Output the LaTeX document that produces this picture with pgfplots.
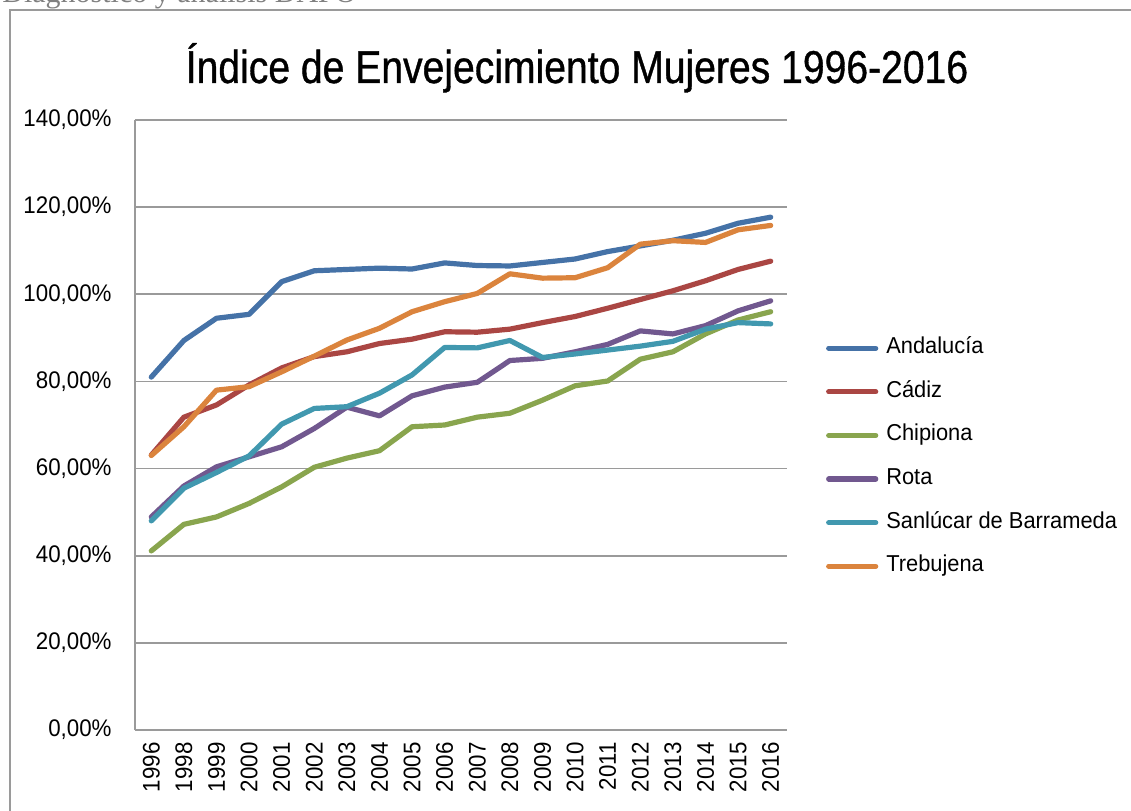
\documentclass[border=0pt]{standalone}
\usepackage{fontspec}
\setmainfont{Liberation Sans}
\newfontfamily\titlefont{Liberation Sans}[FakeStretch=0.85,FakeBold=0.8]
\newfontfamily\tickfont{Liberation Sans}[FakeStretch=0.93]
\newfontfamily\legfont{Liberation Sans}[FakeStretch=0.95]
\newfontfamily\headfont{Liberation Serif}
\usepackage{pgfplots}
\usepackage{pgfplotstable}
\pgfplotsset{compat=1.18}
\definecolor{cAnd}{HTML}{4572A7}
\definecolor{cCad}{HTML}{AA4643}
\definecolor{cChi}{HTML}{89A54E}
\definecolor{cRot}{HTML}{71588F}
\definecolor{cSan}{HTML}{4198AF}
\definecolor{cTre}{HTML}{DB843D}
\definecolor{gridc}{HTML}{9A9A9A}
\pgfplotstableread{
idx And Cad Chi Rot San Tre
0 81.0 63.1 41.1 48.9 48.0 63.0
1 89.4 71.8 47.2 56.0 55.5 69.6
2 94.5 74.6 48.9 60.4 59.1 78.0
3 95.4 79.2 52.0 62.7 62.9 78.8
4 102.9 83.1 55.8 65.0 70.2 82.2
5 105.4 85.7 60.3 69.2 73.8 85.8
6 105.7 86.8 62.4 74.1 74.2 89.5
7 106.0 88.7 64.1 72.1 77.3 92.2
8 105.8 89.7 69.6 76.7 81.5 96.0
9 107.2 91.4 70.0 78.7 87.8 98.3
10 106.6 91.3 71.8 79.8 87.7 100.2
11 106.5 92.0 72.7 84.8 89.4 104.7
12 107.3 93.5 75.7 85.3 85.5 103.7
13 108.1 94.9 79.0 86.8 86.3 103.8
14 109.8 96.8 80.1 88.5 87.2 106.1
15 111.1 98.8 85.1 91.6 88.1 111.5
16 112.4 100.8 86.8 90.9 89.2 112.3
17 114.0 103.1 90.9 92.8 92.0 111.9
18 116.3 105.7 94.1 96.2 93.5 114.8
19 117.7 107.6 96.0 98.5 93.2 115.8
}\datatable
\begin{document}
\begin{tikzpicture}
\useasboundingbox (0,0) rectangle (565.5pt,405pt);
\begin{scope}
\clip (0,0) rectangle (565.5pt,405pt);
\draw[gridc, line width=0.8pt] (5pt,-10pt) -- (5pt,400pt) -- (600pt,400pt);
\node[anchor=base west, inner sep=0pt, text=gray, font=\headfont\fontsize{15}{15}\selectfont] at (1pt,403.5pt) {Diagnóstico y análisis DAFO};
\end{scope}
\node[anchor=base, inner sep=0pt, font=\titlefont\fontsize{23}{23}\selectfont] at (288.5pt,363.5pt) {Índice de Envejecimiento Mujeres 1996-2016};
\begin{axis}[
  at={(67.5pt,40pt)}, anchor=south west,
  scale only axis, width=326pt, height=305pt,
  xmin=-0.5, xmax=19.5, ymin=0, ymax=140,
  xtick={0,...,19},
  xticklabels={1996,1998,1999,2000,2001,2002,2003,2004,2005,2006,2007,2008,2009,2010,2011,2012,2013,2014,2015,2016},
  ytick={0,20,...,140},
  yticklabels={{0,00\%},{20,00\%},{40,00\%},{60,00\%},{80,00\%},{100,00\%},{120,00\%},{140,00\%}},
  major tick length=0pt,
  axis x line=bottom, axis y line=left,
  axis line style={-, gridc, line width=0.9pt},
  ymajorgrids, major grid style={gridc, line width=0.9pt},
  tick label style={font=\tickfont\fontsize{12}{12}\selectfont},
  x tick label style={rotate=90, anchor=east, inner sep=0pt},
  xticklabel shift=6pt,
  y tick label style={anchor=east, inner sep=0pt},
  yticklabel shift=11.5pt,
  legend style={at={(1.06,0.643)}, anchor=north west, draw=none, fill=none,
    inner sep=0pt, outer sep=0pt, row sep=11.3pt,
    font=\legfont\fontsize{11.5}{12}\selectfont,
    nodes={inner sep=0pt, text height=8pt, text depth=2.5pt}},
  legend cell align=left,
  legend image code/.code={\draw[#1, line cap=round] (0pt,0pt) -- (23.5pt,0pt);},
  every axis plot/.append style={line width=2.6pt, line cap=round, line join=round},
]
\addplot[cAnd] table[x=idx, y=And] {\datatable};
\addlegendentry{\hspace{4pt}Andalucía}
\addplot[cCad] table[x=idx, y=Cad] {\datatable};
\addlegendentry{\hspace{4pt}Cádiz}
\addplot[cChi] table[x=idx, y=Chi] {\datatable};
\addlegendentry{\hspace{4pt}Chipiona}
\addplot[cRot] table[x=idx, y=Rot] {\datatable};
\addlegendentry{\hspace{4pt}Rota}
\addplot[cSan] table[x=idx, y=San] {\datatable};
\addlegendentry{\hspace{4pt}Sanlúcar de Barrameda}
\addplot[cTre] table[x=idx, y=Tre] {\datatable};
\addlegendentry{\hspace{4pt}Trebujena}
\end{axis}
\end{tikzpicture}
\end{document}
